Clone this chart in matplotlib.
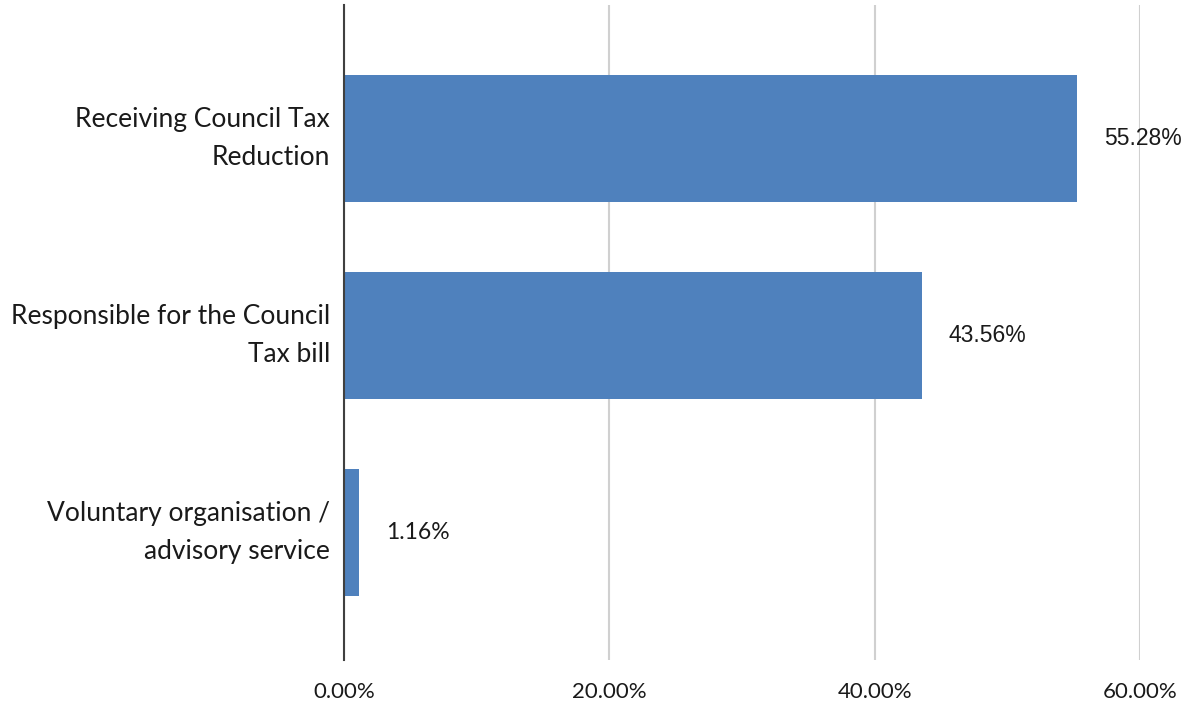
import matplotlib
matplotlib.use('Agg')
import matplotlib.pyplot as plt
from matplotlib.ticker import FuncFormatter

# Data
categories = ['Receiving Council Tax\nReduction',
              'Responsible for the Council\nTax bill',
              'Voluntary organisation /\nadvisory service']
values = [55.28, 43.56, 1.16]
value_labels = ['55.28%', '43.56%', '1.16%']
value_fonts = ['Liberation Sans', 'Liberation Sans', 'Lato']
x_ticks = [0, 20, 40, 60]

BAR_COLOR = '#4F81BD'
TEXT_COLOR = '#1a1a1a'

fig = plt.figure(figsize=(11.91, 7.02), dpi=100)
ax = fig.add_axes([344 / 1191, 1 - 660 / 702, (1140 - 344) / 1191, 655 / 702])

y = list(range(len(categories)))
ax.barh(y, values, height=0.644, color=BAR_COLOR, zorder=3)

# value labels to the right of each bar
for yi, v, lab, fnt in zip(y, values, value_labels, value_fonts):
    ax.annotate(lab, xy=(v, yi), xytext=(19, 0), textcoords='offset points',
                ha='left', va='center', fontsize=16.5, family=fnt,
                color=TEXT_COLOR)

ax.set_xlim(0, 60)
ax.set_ylim(2.644, -0.677)
ax.set_xticks(x_ticks)
ax.xaxis.set_major_formatter(FuncFormatter(lambda v, p: f'{v:.2f}%'))
ax.set_yticks(y)
ax.set_yticklabels(categories, fontsize=19, family='Lato', color=TEXT_COLOR,
                   linespacing=1.65, va='center')
for t in ax.get_xticklabels():
    t.set_fontsize(16)
    t.set_family('Lato')
    t.set_color(TEXT_COLOR)

ax.tick_params(axis='y', length=0, pad=10)
ax.tick_params(axis='x', length=0, pad=16)
ax.grid(axis='x', color='#d0d0d0', linewidth=1.5, zorder=0)
for s in ['top', 'right', 'bottom']:
    ax.spines[s].set_visible(False)
ax.spines['left'].set_color('#404040')
ax.spines['left'].set_linewidth(1.5)
ax.spines['left'].set_zorder(4)

fig.savefig('out.png', dpi=100)
